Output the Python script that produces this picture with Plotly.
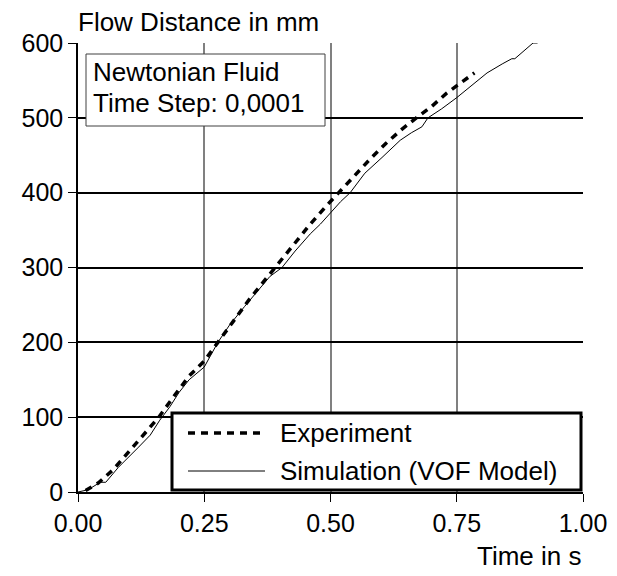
import plotly.graph_objects as go

# experiment (dashed) - time in s, flow distance in mm
exp_t = [0.015, 0.04, 0.07, 0.10, 0.13, 0.16, 0.19, 0.22, 0.25, 0.28, 0.31, 0.34, 0.37,
         0.40, 0.43, 0.46, 0.49, 0.52, 0.55, 0.58, 0.61, 0.64, 0.67, 0.70, 0.73, 0.76, 0.785]
exp_d = [2, 12, 30, 53, 76, 100, 128, 155, 175, 203, 230, 258, 283,
         308, 333, 358, 381, 403, 425, 446, 466, 484, 500, 515, 533, 548, 560]

# simulation (VOF model)
sim_t = [0.0, 0.02, 0.044, 0.055, 0.08, 0.10, 0.12, 0.143, 0.162, 0.182, 0.20, 0.22, 0.25,
         0.277, 0.30, 0.33, 0.36, 0.38, 0.404, 0.43, 0.46, 0.48, 0.50, 0.52, 0.539, 0.568,
         0.602, 0.638, 0.66, 0.681, 0.693, 0.72, 0.75, 0.78, 0.796, 0.81, 0.84, 0.859,
         0.865, 0.88, 0.901, 0.91]
sim_d = [0, 3, 13, 13, 33, 46, 60, 76, 96, 114, 133, 150, 167,
         200, 223, 248, 272, 288, 300, 322, 345, 358, 373, 388, 400, 426,
         447, 470, 480, 488, 500, 512, 527, 543, 552, 560, 572, 579,
         579, 588, 600, 600]

x_ticks = [0, 0.25, 0.5, 0.75, 1.0]
x_labels = ["0.00", "0.25", "0.50", "0.75", "1.00"]
y_ticks = [0, 100, 200, 300, 400, 500, 600]

FONT = "Liberation Sans, Arial, sans-serif"
FS = 26

fig = go.Figure()
fig.add_trace(go.Scatter(x=exp_t, y=exp_d, mode="lines", name="Experiment",
                         line=dict(color="black", width=3.5, dash="7px,6px")))
fig.add_trace(go.Scatter(x=sim_t, y=sim_d, mode="lines", name="Simulation (VOF Model)",
                         line=dict(color="black", width=1)))

fig.update_xaxes(range=[0, 1], tickvals=x_ticks, ticktext=x_labels, automargin=False,
                 showgrid=True, gridcolor="#808080", gridwidth=2,
                 showline=True, linecolor="black", linewidth=1.5,
                 ticks="outside", ticklen=8, tickcolor="black", zeroline=False,
                 tickfont=dict(size=25))
fig.update_yaxes(range=[0, 600], tickvals=y_ticks, automargin=False,
                 showgrid=True, gridcolor="black", gridwidth=1.5,
                 showline=True, linecolor="black", linewidth=1.5,
                 ticks="outside", ticklen=8, tickcolor="black", zeroline=False,
                 tickfont=dict(size=25))

# page body has an 8px margin, so the figure sits 8px in from the window corner
OFF = 8
W, H = 617 - OFF, 576 - OFF
L, R, T, B = 78 - OFF, 34, 43 - OFF, 84
pw, ph = W - L - R, H - T - B


# helpers: window pixel -> paper coords
def px(x):
    return (x - OFF - L) / pw


def py(y):
    return (H - B - (y - OFF)) / ph


shapes = [
    # info box
    dict(type="rect", xref="paper", yref="paper", x0=px(86), x1=px(325), y0=py(126), y1=py(54),
         line=dict(color="#404040", width=1), fillcolor="white", layer="above"),
    # legend box
    dict(type="rect", xref="paper", yref="paper", x0=px(172), x1=px(581), y0=py(490), y1=py(413),
         line=dict(color="black", width=3), fillcolor="white", layer="above"),
    dict(type="line", xref="paper", yref="paper", x0=px(188), x1=px(265), y0=py(433), y1=py(433),
         line=dict(color="black", width=3.5, dash="7px,6px"), layer="above"),
    dict(type="line", xref="paper", yref="paper", x0=px(188), x1=px(265), y0=py(471), y1=py(471),
         line=dict(color="black", width=1), layer="above"),
]

ann = [
    dict(text="Flow Distance in mm", x=px(76), y=py(22)),
    dict(text="Newtonian Fluid", x=px(91), y=py(72)),
    dict(text="Time Step: 0,0001", x=px(91), y=py(103)),
    dict(text="Experiment", x=px(278), y=py(433)),
    dict(text="Simulation (VOF Model)", x=px(278), y=py(471)),
]
annotations = [dict(a, xref="paper", yref="paper", xanchor="left", yanchor="middle",
                    showarrow=False) for a in ann]
annotations.append(dict(text="Time in s", x=px(584), y=py(556), xref="paper", yref="paper",
                        xanchor="right", yanchor="middle", showarrow=False))

fig.update_layout(width=W, height=H, margin=dict(l=L, r=R, t=T, b=B),
                  paper_bgcolor="white", plot_bgcolor="white", showlegend=False,
                  font=dict(family=FONT, size=FS, color="black"),
                  shapes=shapes, annotations=annotations)

fig.write_html("out.html")
